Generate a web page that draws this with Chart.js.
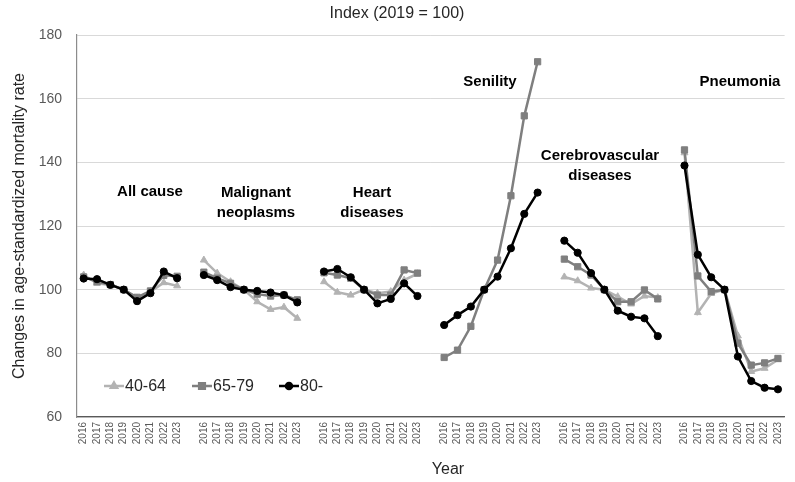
<!DOCTYPE html>
<html>
<head>
<meta charset="utf-8">
<script src="https://cdn.jsdelivr.net/npm/chart.js@4/dist/chart.umd.min.js"></script>
<style>
  html, body { margin: 0; padding: 0; background: #fff; }
  #wrap { width: 795px; height: 482px; position: relative; }
</style>
</head>
<body>
<div id="wrap"><canvas id="chart"></canvas></div>
<script>
// categories
const years = ["2016", "2017", "2018", "2019", "2020", "2021", "2022", "2023"];
const causes = ["All cause", "Malignant neoplasms", "Heart diseases", "Senility", "Cerebrovascular diseases", "Pneumonia"];
const seriesNames = ["40-64", "65-79", "80-"];

// index values (2019 = 100), one row per cause
const age40_64 = [
  [104.6, 102.0, 101.5, 100, 97.3, 99.4, 102.2, 101.2],
  [109.3, 105.2, 102.5, 100, 96.2, 93.8, 94.5, 91.0],
  [102.5, 99.2, 98.3, 100, 98.9, 99.4, 103.0, 105.0],
  [null, null, null, null, null, null, null, null],
  [104.0, 102.8, 100.5, 100, 97.8, 95.5, 98.0, 97.5],
  [143.0, 92.8, 98.8, 100, 85.5, 74.3, 75.3, 78.0]
];
const age65_79 = [
  [104.0, 102.5, 101.6, 100, 97.6, 99.6, 104.5, 104.2],
  [105.5, 103.6, 102.0, 100, 98.6, 98.0, 98.3, 96.8],
  [105.3, 104.6, 103.6, 100, 98.3, 98.3, 106.2, 105.2],
  [78.7, 81.0, 88.5, 100, 109.3, 129.5, 154.6, 171.6],
  [109.6, 107.2, 104.6, 100, 96.2, 96.2, 99.9, 97.1],
  [143.9, 104.3, 99.4, 100, 83.2, 76.3, 77.0, 78.4]
];
const age80 = [
  [103.5, 103.3, 101.5, 100, 96.4, 98.9, 105.7, 103.6],
  [104.6, 103.0, 100.8, 100, 99.6, 99.1, 98.3, 96.0],
  [105.7, 106.5, 103.9, 100, 95.7, 97.1, 102.0, 98.0],
  [88.9, 92.0, 94.7, 100, 104.1, 113.0, 123.8, 130.5],
  [115.4, 111.6, 105.2, 100, 93.4, 91.5, 91.0, 85.4],
  [139.0, 111.0, 103.9, 100, 79.0, 71.3, 69.2, 68.7]
];
const yTicks = [60, 80, 100, 120, 140, 160, 180];

// flatten groups, with one empty category between causes
function flatten(rows) {
  const out = [];
  rows.forEach((row, i) => {
    out.push(...row);
    if (i < rows.length - 1) out.push(null);
  });
  return out;
}
const labels = [];
causes.forEach((c, i) => {
  labels.push(...years);
  if (i < causes.length - 1) labels.push("");
});

const FONT = "'Liberation Sans', Arial, sans-serif";

const textPlugin = {
  id: "texts",
  afterDraw(chart) {
    const ctx = chart.ctx;
    ctx.save();
    ctx.textAlign = "center";
    ctx.textBaseline = "middle";
    ctx.fillStyle = "#262626";
    ctx.font = "16px " + FONT;
    ctx.fillText("Index (2019 = 100)", 397, 14);
    ctx.fillText("Year", 448, 470);

    // cause labels
    ctx.fillStyle = "#000";
    ctx.font = "bold 15px " + FONT;
    const causeLabels = [
      [["All cause"], 150, 192],
      [["Malignant", "neoplasms"], 256, 193],
      [["Heart", "diseases"], 372, 193],
      [["Senility"], 490, 82],
      [["Cerebrovascular", "diseases"], 600, 156],
      [["Pneumonia"], 740, 82]
    ];
    causeLabels.forEach(([lines, x, y]) => {
      lines.forEach((t, i) => ctx.fillText(t, x, y + i * 20));
    });

    // legend inside plot
    ctx.font = "16px " + FONT;
    ctx.textAlign = "left";
    const ly = 386;
    const items = [
      { x: 104, color: "#b3b3b3", style: "triangle", r: 3.5 },
      { x: 192, color: "#7f7f7f", style: "rect", r: 4 },
      { x: 279, color: "#000000", style: "circle", r: 3 }
    ];
    items.forEach((it, i) => {
      ctx.strokeStyle = it.color;
      ctx.fillStyle = it.color;
      ctx.lineWidth = 2.5;
      ctx.beginPath();
      ctx.moveTo(it.x, ly);
      ctx.lineTo(it.x + 20, ly);
      ctx.stroke();
      Chart.helpers.drawPoint(ctx, { pointStyle: it.style, radius: it.r, borderWidth: 1 }, it.x + 10, ly);
      ctx.fillStyle = "#262626";
      ctx.fillText(seriesNames[i], it.x + 21, ly + 1);
    });
    ctx.restore();
  }
};

new Chart(document.getElementById("chart"), {
  type: "line",
  data: {
    labels: labels,
    datasets: [
      {
        label: seriesNames[0],
        data: flatten(age40_64),
        borderColor: "#b3b3b3",
        backgroundColor: "#b3b3b3",
        pointStyle: "triangle",
        pointRadius: 4,
        order: 3
      },
      {
        label: seriesNames[1],
        data: flatten(age65_79),
        borderColor: "#7f7f7f",
        backgroundColor: "#7f7f7f",
        pointStyle: "rect",
        pointRadius: 4.4,
        order: 2
      },
      {
        label: seriesNames[2],
        data: flatten(age80),
        borderColor: "#000000",
        backgroundColor: "#000000",
        pointStyle: "circle",
        pointRadius: 3.6,
        order: 1
      }
    ]
  },
  options: {
    responsive: true,
    maintainAspectRatio: false,
    animation: false,
    spanGaps: false,
    elements: {
      line: { borderWidth: 2.5, tension: 0 },
      point: { borderWidth: 1 }
    },
    layout: { padding: { left: 0, right: 3, top: 35, bottom: 0 } },
    plugins: {
      legend: { display: false },
      tooltip: { enabled: false }
    },
    scales: {
      x: {
        offset: true,
        grid: { display: false, drawTicks: false },
        border: { display: true, color: "#595959", width: 1.2 },
        ticks: {
          autoSkip: false,
          maxRotation: 90,
          minRotation: 90,
          padding: 5,
          color: "#595959",
          font: { size: 10, family: FONT }
        },
        afterFit(scale) { scale.height = 65; }
      },
      y: {
        min: 60,
        max: 180,
        afterBuildTicks(scale) { scale.ticks = yTicks.map(v => ({ value: v })); },
        grid: { color: "#d9d9d9", lineWidth: 1, drawTicks: false },
        border: { display: true, color: "#8c8c8c", width: 1.2 },
        ticks: {
          padding: 15,
          color: "#595959",
          font: { size: 14, family: FONT }
        },
        title: {
          display: true,
          text: "Changes in age-standardized mortality rate",
          color: "#262626",
          font: { size: 16, family: FONT },
          padding: { top: 10, bottom: 0 }
        },
        afterFit(scale) { scale.width = 77; }
      }
    }
  },
  plugins: [textPlugin]
});
</script>
</body>
</html>
